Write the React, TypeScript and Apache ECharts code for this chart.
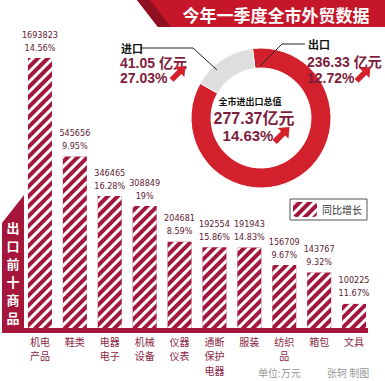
import React, { useEffect, useRef } from "react";
import * as echarts from "echarts";

const categories = ["机电\n产品", "鞋类", "电器\n电子", "机械\n设备", "仪器\n仪表", "通断\n保护\n电器", "服装", "纺织\n品", "箱包", "文具"];
const exportValues = [1693823, 545656, 346465, 308849, 204681, 192554, 191943, 156709, 143767, 100225];
const growthRates = ["14.56%", "9.95%", "16.28%", "19%", "8.59%", "15.86%", "14.83%", "9.67%", "9.32%", "11.67%"];
const pieNames = ["出口", "进口"];
const pieValues = [236.33, 41.05];
const pieGrowth = ["12.72%", "27.03%"];
const totalValue = "277.37";
const totalGrowth = "14.63%";
const legendName = "同比增长";
const sideTitle = ["出", "口", "前", "十", "商", "品"];

const BAR_RED = "#a3173d";
const RING_RED = "#d2202c";
const NUM_COLOR = "#7e1d3e";
const NUM_FONT = "'Liberation Sans', 'Noto Sans CJK SC', sans-serif";

function arrow(x: number, y: number, s: number) {
  const pts = [
    [11, 0], [10.3, 7.8], [8.17, 5.65], [2.5, 11.3], [-0.3, 8.5], [5.35, 2.83], [3.2, 0.7],
  ].map(([a, b]) => [x + a * s, y + b * s]);
  return { type: "polygon", shape: { points: pts }, style: { fill: "#d4212b" }, z: 120 };
}

export default function App() {
  const ref = useRef<HTMLDivElement>(null);
  useEffect(() => {
    document.body.style.margin = "0";
    const chart = echarts.init(ref.current!, null, { renderer: "svg" });
    const maxVal = Math.max(...exportValues);
    chart.setOption({
      animation: false,
      backgroundColor: "#ffffff",
      grid: { left: 22.5, width: 349, top: 58, bottom: 53 },
      legend: {
        left: 290,
        top: 199,
        orient: "horizontal",
        data: [legendName],
        borderColor: "#555",
        borderWidth: 1,
        padding: [3, 5, 3, 3],
        itemWidth: 24,
        itemHeight: 15,
        itemGap: 4,
        textStyle: { fontSize: 10, color: "#333", fontFamily: "'Noto Sans CJK SC', sans-serif" },
      },
      xAxis: {
        type: "category",
        data: categories,
        axisLine: { show: false },
        axisTick: { show: false },
        axisLabel: {
          margin: 6,
          interval: 0,
          fontSize: 10,
          lineHeight: 14.5,
          verticalAlign: "top",
          color: "#8a2646",
          fontFamily: "'Noto Sans CJK SC', sans-serif",
        },
      },
      yAxis: { type: "log", min: 76000, max: maxVal, show: false, splitLine: { show: false } },
      series: [
        {
          type: "bar",
          name: legendName,
          data: exportValues,
          barWidth: 24,
          itemStyle: {
            color: BAR_RED,
            decal: {
              symbol: "rect",
              symbolSize: 1,
              color: "#ffffff",
              dashArrayX: [1, 0],
              dashArrayY: [3, 4],
              rotation: -Math.PI / 4,
            },
          },
          label: {
            show: true,
            position: "top",
            distance: 4,
            formatter: (p: any) => `${p.value}\n${growthRates[p.dataIndex]}`,
            fontSize: 9,
            lineHeight: 13,
            color: "#5e1a33",
            fontFamily: "'Liberation Sans Narrow', 'DejaVu Sans Condensed', 'Liberation Sans', sans-serif",
          },
        },
        {
          type: "pie",
          center: [261, 118],
          radius: [50, 70],
          startAngle: 97,
          z: 1,
          label: { show: false },
          labelLine: { show: false },
          silent: true,
          itemStyle: { borderColor: "#fff", borderWidth: 1 },
          data: pieNames.map((n, i) => ({
            name: n,
            value: pieValues[i],
            itemStyle: { color: i === 0 ? RING_RED : "#dedede" },
          })),
        },
      ],
      graphic: [
        { type: "polygon", shape: { points: [[137, 0], [385, 0], [385, 27], [158, 27]] }, style: { fill: "#c5162a" } },
        { type: "polygon", shape: { points: [[137, 0], [150, 0], [171, 27], [158, 27]] }, style: { fill: "#8e1022" } },
        {
          type: "text", x: 276, y: 14, z: 100,
          style: { text: "今年一季度全市外贸数据", fill: "#fff", font: "bold 17px 'Noto Sans CJK SC', sans-serif", align: "center", verticalAlign: "middle" },
        },
        // left vertical box
        { type: "polygon", shape: { points: [[2, 223], [24, 195], [24, 330], [2, 330]] }, style: { fill: "#a5163a" } },
        ...sideTitle.map((c, i) => ({
          type: "text", x: 13, y: 227 + i * 18, z: 100,
          style: { text: c, fill: "#fff", font: "bold 13px 'Noto Sans CJK SC', sans-serif", align: "center", verticalAlign: "middle" },
        })),
        // baseline
        { type: "rect", shape: { x: 2, y: 328, width: 366, height: 5 }, style: { fill: "#a5163a" }, z: 10 },
        // leader lines
        { type: "polyline", shape: { points: [[140, 48], [193, 48], [217, 70]] }, style: { stroke: "#222", lineWidth: 1, fill: "none" }, z: 115 },
        { type: "polyline", shape: { points: [[305, 44], [282, 44], [260, 66]] }, style: { stroke: "#222", lineWidth: 1, fill: "none" }, z: 115 },
        // import label
        { type: "text", x: 121, y: 48, z: 100, style: { text: pieNames[1], fill: "#111", font: "bold 11px 'Noto Sans CJK SC', sans-serif", verticalAlign: "middle" } },
        { type: "text", x: 120, y: 63, z: 100, style: { text: `${pieValues[1]} 亿元`, fill: NUM_COLOR, font: `bold 14px ${NUM_FONT}`, verticalAlign: "middle" } },
        { type: "text", x: 120, y: 78, z: 100, style: { text: pieGrowth[1], fill: NUM_COLOR, font: `bold 14px ${NUM_FONT}`, verticalAlign: "middle" } },
        arrow(170, 66, 1.4),
        // export label
        { type: "text", x: 308, y: 44, z: 100, style: { text: pieNames[0], fill: "#111", font: "bold 11px 'Noto Sans CJK SC', sans-serif", verticalAlign: "middle" } },
        { type: "text", x: 307, y: 62, z: 100, style: { text: `${pieValues[0]} 亿元`, fill: NUM_COLOR, font: `bold 14px ${NUM_FONT}`, verticalAlign: "middle" } },
        { type: "text", x: 307, y: 78, z: 100, style: { text: pieGrowth[0], fill: NUM_COLOR, font: `bold 14px ${NUM_FONT}`, verticalAlign: "middle" } },
        arrow(355, 67, 1.4),
        // center
        { type: "text", x: 250, y: 101, z: 100, style: { text: "全市进出口总值", fill: "#111", font: "bold 9px 'Noto Sans CJK SC', sans-serif", align: "center", verticalAlign: "middle" } },
        { type: "text", x: 254, y: 118, z: 100, style: { text: `${totalValue}亿元`, fill: NUM_COLOR, font: `bold 16px ${NUM_FONT}`, align: "center", verticalAlign: "middle" } },
        { type: "text", x: 248, y: 135, z: 100, style: { text: totalGrowth, fill: NUM_COLOR, font: `bold 15px ${NUM_FONT}`, align: "center", verticalAlign: "middle" } },
        arrow(273, 127, 1.5),
        // footer
        { type: "text", x: 258, y: 372, z: 100, style: { text: "单位:万元", fill: "#999", font: "10px 'Noto Sans CJK SC', sans-serif", verticalAlign: "middle" } },
        { type: "text", x: 327, y: 372, z: 100, style: { text: "张轲 制图", fill: "#999", font: "10px 'Noto Sans CJK SC', sans-serif", verticalAlign: "middle" } },
      ],
    });
    return () => chart.dispose();
  }, []);
  return <div ref={ref} style={{ width: 385, height: 381 }} />;
}
